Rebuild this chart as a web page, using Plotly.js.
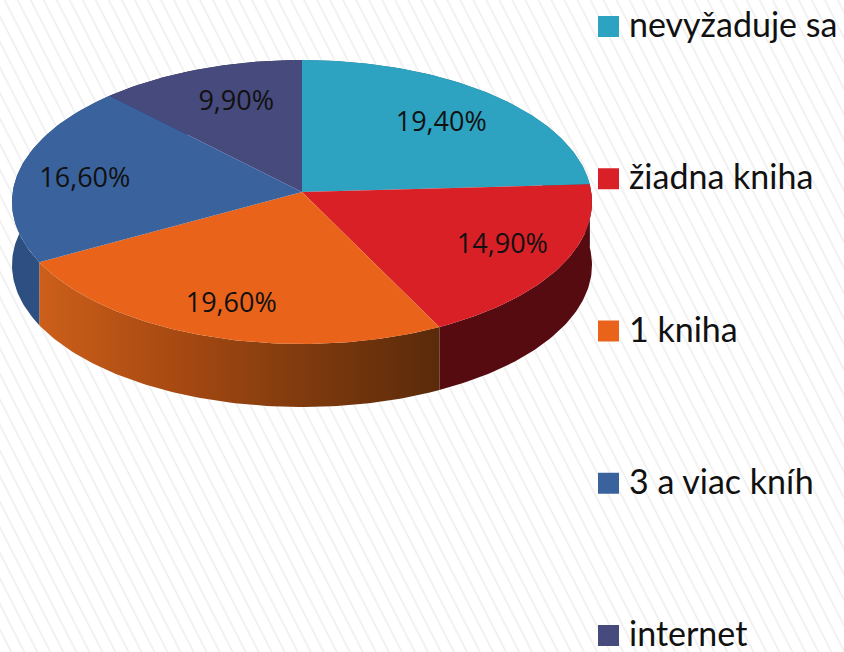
<!DOCTYPE html>
<html>
<head>
<meta charset="utf-8">
<script src="https://cdn.plot.ly/plotly-3.0.1.min.js"></script>
<style>
html,body{margin:0;padding:0;width:844px;height:652px;overflow:hidden;
background:repeating-linear-gradient(63deg,#ffffff 0,#ffffff 8.6px,#f2f2f2 9.6px,#f0f0f0 10.4px,#ffffff 11.6px);}
#chart{width:844px;height:652px;}
</style>
</head>
<body>
<div id="chart"></div>
<script>
// Data
const categories = ["nevyžaduje sa", "žiadna kniha", "1 kniha", "3 a viac kníh", "internet"];
const values = [19.4, 14.9, 19.6, 16.6, 9.9];
const labels = ["19,40%", "14,90%", "19,60%", "16,60%", "9,90%"];

// Styles
const topColors = ["#2ea3c1", "#d92027", "#e9631b", "#3a639e", "#464a7c"];
const wallScales = [
  ["#1f7288", "#1f7288"],
  ["#560b10", "#560b10"],
  ["#cc5f1a", "#a84a12", "#7f3a0e", "#5a2a0a"],
  ["#2d4f80", "#2f5286"],
  ["#30345a", "#30345a"]
];
const labelRadius = [0.72, 0.75, 0.76, 0.76, 0.72];
const labelNudge = [[3, 3], [6, -1], [0, 3], [-2, 4], [8, 0]];

// Projection of the tilted disc onto the pixel-like axes
const view = {cx: 302, cy: 202, rx: 290, ry: 142, apexOffset: 10, depth: 63};
const c = view.apexOffset / view.ry;
const s = Math.sqrt(1 - c * c);
function rim(deg) {
  const t = deg * Math.PI / 180, k = 1 + c * Math.cos(t);
  return [view.cx + view.rx * Math.sin(t) * s / k,
          view.cy - view.ry * (Math.cos(t) + c) / k];
}
const apex = [view.cx, view.cy - view.apexOffset];

const total = values.reduce((a, b) => a + b, 0);
const bounds = [0];
values.forEach(v => bounds.push(bounds[bounds.length - 1] + v / total * 360));

function arc(a, b) {
  const pts = [];
  const n = Math.max(2, Math.ceil((b - a)));
  for (let i = 0; i <= n; i++) pts.push(rim(a + (b - a) * i / n));
  return pts;
}

const traces = [];
// Side walls, drawn first so the top face covers the far ones
values.forEach((v, i) => {
  const pts = arc(bounds[i], bounds[i + 1]);
  const low = pts.slice().reverse().map(p => [p[0], p[1] + view.depth]);
  const all = pts.concat(low);
  all.push(pts[0]);
  const xs = all.map(p => p[0]);
  const scale = wallScales[i].map((col, j, arr) => [j / (arr.length - 1), col]);
  traces.push({
    type: "scatter", mode: "lines", x: xs, y: all.map(p => p[1]),
    line: {width: 0}, fill: "toself",
    fillgradient: {type: "horizontal", colorscale: scale,
      start: Math.min.apply(null, xs), stop: Math.max.apply(null, xs)},
    hoverinfo: "skip", showlegend: false
  });
});
// Top faces
values.forEach((v, i) => {
  const pts = [apex].concat(arc(bounds[i], bounds[i + 1]), [apex]);
  traces.push({
    type: "scatter", mode: "lines", x: pts.map(p => p[0]), y: pts.map(p => p[1]),
    line: {width: 0}, fill: "toself", fillcolor: topColors[i],
    name: categories[i], hoverinfo: "name", showlegend: false
  });
});
// Value labels
const mids = values.map((v, i) => rim((bounds[i] + bounds[i + 1]) / 2));
traces.push({
  type: "scatter", mode: "text",
  x: mids.map((p, i) => apex[0] + (p[0] - apex[0]) * labelRadius[i] + labelNudge[i][0]),
  y: mids.map((p, i) => apex[1] + (p[1] - apex[1]) * labelRadius[i] + labelNudge[i][1]),
  text: labels, textposition: "middle center",
  textfont: {family: "Open Sans, sans-serif", size: 27, color: "#111111"},
  hoverinfo: "skip", showlegend: false
});
// Legend column
const key = {swatchX: 608.5, textX: 629, firstY: 26.5, step: 152.25, textDrop: 2};
const rowY = categories.map((_, i) => key.firstY + key.step * i);
traces.push({
  type: "scatter", mode: "markers",
  x: categories.map(() => key.swatchX), y: rowY,
  marker: {symbol: "square", size: 21, color: topColors, line: {width: 0}},
  hoverinfo: "skip", showlegend: false, cliponaxis: false
});
traces.push({
  type: "scatter", mode: "text",
  x: categories.map(() => key.textX), y: rowY.map(y => y + key.textDrop),
  text: categories, textposition: "middle right",
  textfont: {family: "Lato, sans-serif", size: 34, color: "#111111"},
  hoverinfo: "skip", showlegend: false, cliponaxis: false
});

const layout = {
  width: 844, height: 652,
  margin: {l: 0, r: 0, t: 0, b: 0},
  paper_bgcolor: "rgba(0,0,0,0)", plot_bgcolor: "rgba(0,0,0,0)",
  xaxis: {range: [0, 844], visible: false, fixedrange: true},
  yaxis: {range: [652, 0], visible: false, fixedrange: true},
  showlegend: false
};
Plotly.newPlot("chart", traces, layout, {displayModeBar: false, staticPlot: true});
</script>
</body>
</html>
